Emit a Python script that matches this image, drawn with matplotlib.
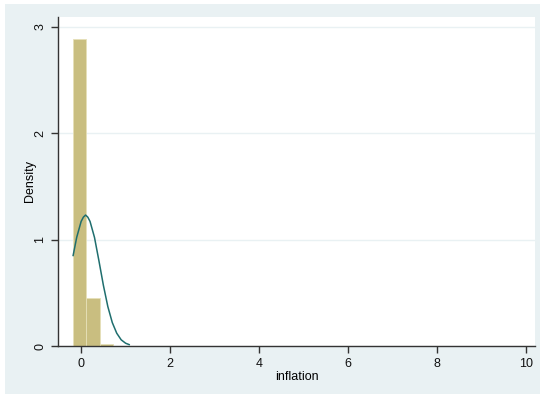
import matplotlib.pyplot as plt
from matplotlib.patches import Rectangle

plt.rcParams["font.family"] = ["Liberation Sans", "DejaVu Sans"]

# histogram bins (left edges), bin width and density heights
bin_left = [-0.18, 0.12, 0.42]
bin_width = 0.30
bin_density = [2.88, 0.45, 0.02]

# normal density overlay
curve_x = [-0.18, -0.10, 0.00, 0.05, 0.10, 0.15, 0.20, 0.30, 0.40, 0.50,
           0.60, 0.70, 0.80, 0.90, 1.00, 1.08]
curve_y = [0.85, 1.02, 1.17, 1.21, 1.23, 1.21, 1.17, 1.02, 0.80, 0.57,
           0.37, 0.22, 0.12, 0.058, 0.026, 0.013]

x_ticks = [0, 2, 4, 6, 8, 10]
y_ticks = [0, 1, 2, 3]

fig = plt.figure(figsize=(5.42, 3.97), dpi=100, facecolor="white")
fig.patches.append(Rectangle((5 / 542, 3 / 397), 535 / 542, 390 / 397,
                             transform=fig.transFigure, facecolor="#e9f1f3",
                             edgecolor="none", zorder=-10))

ax = fig.add_axes([58 / 542, 1 - 346 / 397, 477 / 542, 329 / 397])
ax.set_facecolor("white")

ax.bar(bin_left, bin_density, width=bin_width, align="edge",
       color="#c9be80", edgecolor="#e6e0b8", linewidth=0.6, zorder=2)
ax.plot(curve_x, curve_y, color="#1f6e6e", linewidth=1.1, zorder=3)

ax.set_xlim(-0.52, 10.2)
ax.set_ylim(0, 3.09)
ax.set_xticks(x_ticks)
ax.set_yticks(y_ticks)
ax.grid(axis="y", color="#e9f1f3", linewidth=1.0, zorder=0)
ax.set_axisbelow(True)

for s in ["top", "right"]:
    ax.spines[s].set_visible(False)
for s in ["left", "bottom"]:
    ax.spines[s].set_color("#333333")
    ax.spines[s].set_linewidth(1.0)

ax.tick_params(axis="both", length=5, width=1, color="#333333",
               labelsize=9, labelcolor="#111111")
ax.tick_params(axis="y", labelrotation=90)
for lbl in ax.get_yticklabels():
    lbl.set_va("center")

ax.set_xlabel("inflation", fontsize=9, labelpad=1)
ax.set_ylabel("Density", fontsize=9, labelpad=-1)

fig.savefig("out.png", dpi=100, facecolor=fig.get_facecolor())
